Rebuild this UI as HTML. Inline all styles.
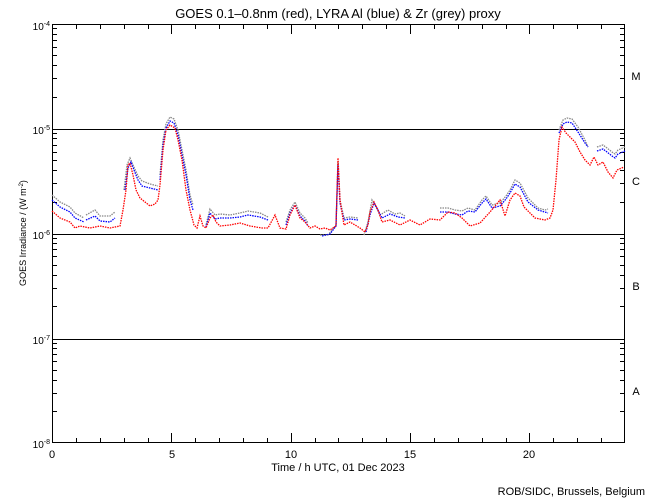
<!DOCTYPE html>
<html><head><style>
body{margin:0;background:#fff;}
svg{display:block;font-family:"Liberation Sans",sans-serif;}
</style></head><body>
<svg width="650" height="500" viewBox="0 0 650 500" xmlns="http://www.w3.org/2000/svg">
<rect width="650" height="500" fill="#fff"/>
<text x="338" y="18" font-size="13" text-anchor="middle">GOES 0.1–0.8nm (red), LYRA Al (blue) &amp; Zr (grey) proxy</text>
<g stroke="#000" stroke-width="1" fill="none">
<rect x="52.5" y="24.5" width="572" height="418"/>
<line x1="52" y1="129.5" x2="625" y2="129.5"/>
<line x1="52" y1="234.5" x2="625" y2="234.5"/>
<line x1="52" y1="339.5" x2="625" y2="339.5"/>
<path d="M52 411.5h5M52 393.5h5M52 380.5h5M52 370.5h5M52 361.5h5M52 354.5h5M52 348.5h5M52 343.5h5
M52 306.5h5M52 288.5h5M52 275.5h5M52 265.5h5M52 256.5h5M52 249.5h5M52 243.5h5M52 238.5h5
M52 202.5h5M52 183.5h5M52 170.5h5M52 160.5h5M52 152.5h5M52 145.5h5M52 138.5h5M52 133.5h5
M52 97.5h5M52 78.5h5M52 65.5h5M52 55.5h5M52 47.5h5M52 40.5h5M52 34.5h5M52 28.5h5
M52 339.5h10M52 234.5h10M52 129.5h10
M625 411.5h-5M625 393.5h-5M625 380.5h-5M625 370.5h-5M625 361.5h-5M625 354.5h-5M625 348.5h-5M625 343.5h-5
M625 306.5h-5M625 288.5h-5M625 275.5h-5M625 265.5h-5M625 256.5h-5M625 249.5h-5M625 243.5h-5M625 238.5h-5
M625 202.5h-5M625 183.5h-5M625 170.5h-5M625 160.5h-5M625 152.5h-5M625 145.5h-5M625 138.5h-5M625 133.5h-5
M625 97.5h-5M625 78.5h-5M625 65.5h-5M625 55.5h-5M625 47.5h-5M625 40.5h-5M625 34.5h-5M625 28.5h-5
M625 339.5h-10M625 234.5h-10M625 129.5h-10
M76.5 443v-5M100.5 443v-5M124.5 443v-5M148.5 443v-5M171.5 443v-10M195.5 443v-5M219.5 443v-5M243.5 443v-5M267.5 443v-5M291.5 443v-10M315.5 443v-5M338.5 443v-5M362.5 443v-5M386.5 443v-5M410.5 443v-10M434.5 443v-5M458.5 443v-5M482.5 443v-5M506.5 443v-5M529.5 443v-10M553.5 443v-5M577.5 443v-5M601.5 443v-5
M76.5 24v5M100.5 24v5M124.5 24v5M148.5 24v5M171.5 24v10M195.5 24v5M219.5 24v5M243.5 24v5M267.5 24v5M291.5 24v10M315.5 24v5M338.5 24v5M362.5 24v5M386.5 24v5M410.5 24v10M434.5 24v5M458.5 24v5M482.5 24v5M506.5 24v5M529.5 24v10M553.5 24v5M577.5 24v5M601.5 24v5"/>
</g>
<g font-size="10" text-anchor="end">
<text x="50" y="30">10<tspan font-size="7" dy="-4">-4</tspan></text>
<text x="50" y="134">10<tspan font-size="7" dy="-4">-5</tspan></text>
<text x="50" y="239">10<tspan font-size="7" dy="-4">-6</tspan></text>
<text x="50" y="344">10<tspan font-size="7" dy="-4">-7</tspan></text>
<text x="50" y="448">10<tspan font-size="7" dy="-4">-8</tspan></text>
</g>
<g font-size="11" text-anchor="middle">
<text x="52" y="458">0</text><text x="172" y="458">5</text><text x="291" y="458">10</text><text x="410" y="458">15</text><text x="529" y="458">20</text>
<text x="636" y="80">M</text><text x="636" y="185">C</text><text x="636" y="290">B</text><text x="636" y="395">A</text>
</g>
<text x="338" y="471" font-size="11" text-anchor="middle">Time / h UTC, 01 Dec 2023</text>
<text x="26" y="233" font-size="9" text-anchor="middle" transform="rotate(-90 26 233)">GOES Irradiance / (W m<tspan font-size="6" dy="-3">-2</tspan><tspan dy="3">)</tspan></text>
<text x="645" y="495" font-size="11" text-anchor="end">ROB/SIDC, Brussels, Belgium</text>
<g fill="none" stroke-width="1.3" stroke-dasharray="1.5 1">
<polyline stroke="#888" points="52,195 60,202 70,207 75,213 84,218"/>
<polyline stroke="#888" points="86,215 95,210 100,216 110,216 115,212"/>
<polyline stroke="#888" points="124,190 127,165 130,158 133,165 138,176 142,181 150,184 158,186"/>
<polyline stroke="#888" points="160,175 163,140 166,124 170,117 174,119 178,130 182,150 186,170 190,195 193,205"/>
<polyline stroke="#888" points="206,225 210,209 215,215 220,214 230,215 240,213 248,211 260,213 268,217"/>
<polyline stroke="#888" points="286,222 290,210 295,202 300,213 305,218 308,223"/>
<polyline stroke="#888" points="320,235 328,235 336,225 338,162 340,200 344,218 350,217 358,218"/>
<polyline stroke="#888" points="364,235 368,222 372,200 376,207 380,215 388,210 395,214 400,213 405,216"/>
<polyline stroke="#888" points="440,208 448,208 455,210 462,211 468,208 475,210 482,200 486,196 492,205 500,203 506,196 510,190 515,180 520,183 528,198 538,208 545,210 548,209"/>
<polyline stroke="#888" points="559,130 563,120 567,118 572,119 578,127 585,140 588,147"/>
<polyline stroke="#888" points="597,147 603,145 607,148 612,152 615,154 618,150 625,147"/>
<polyline stroke="#0000ff" points="52,200 60,207 70,212 75,218 84,222"/>
<polyline stroke="#0000ff" points="86,220 95,216 100,221 110,222 115,218"/>
<polyline stroke="#0000ff" points="125,190 128,168 131,162 134,170 138,180 142,186 150,188 158,190"/>
<polyline stroke="#0000ff" points="160,180 163,145 166,128 170,121 174,123 178,135 182,155 186,175 190,200 193,210"/>
<polyline stroke="#0000ff" points="206,227 210,213 215,219 220,218 230,218 240,217 248,215 260,217 268,220"/>
<polyline stroke="#0000ff" points="286,225 290,213 295,205 300,216 305,221 308,226"/>
<polyline stroke="#0000ff" points="322,236 330,234 336,226 338,165 340,203 344,220 350,219 358,220"/>
<polyline stroke="#0000ff" points="366,232 370,215 374,203 378,210 382,218 390,214 398,217 405,218"/>
<polyline stroke="#0000ff" points="440,212 448,212 455,214 462,215 468,211 475,212 482,203 486,199 492,208 500,206 506,199 510,193 515,184 520,187 528,202 538,210 548,213"/>
<polyline stroke="#0000ff" points="559,133 563,124 567,122 572,123 578,132 585,143 588,147"/>
<polyline stroke="#0000ff" points="597,151 603,149 607,152 612,156 615,158 618,154 625,151"/>
<polyline stroke="#ff0000" points="52,211 60,218 70,222 75,228 80,226 90,228 100,226 110,228 120,226 123,210 126,190 128,165 130,163 133,175 136,190 140,198 145,202 150,206 155,204 158,200 160,185 163,150 166,130 170,125 175,128 178,140 182,160 186,190 190,210 194,225 197,228 200,216 203,226 206,228 210,218 213,215 216,222 220,226 230,225 240,223 250,226 262,228 268,228 275,215 280,228 286,229 290,215 295,205 300,218 305,222 310,228 315,226 320,229 325,228 330,230 336,226 338,158 340,200 344,225 350,222 360,228 365,232 368,225 370,212 374,202 378,210 382,222 390,220 400,225 410,220 420,225 430,219 440,220 448,212 455,213 462,218 470,226 480,223 490,212 500,200 505,216 510,200 515,193 520,196 524,207 535,218 545,220 550,218 553,210 556,180 559,140 562,127 566,133 570,137 575,142 580,152 585,160 590,165 594,157 598,165 603,162 608,172 613,178 617,170 624,167"/>
</g>
</svg>
</body></html>
